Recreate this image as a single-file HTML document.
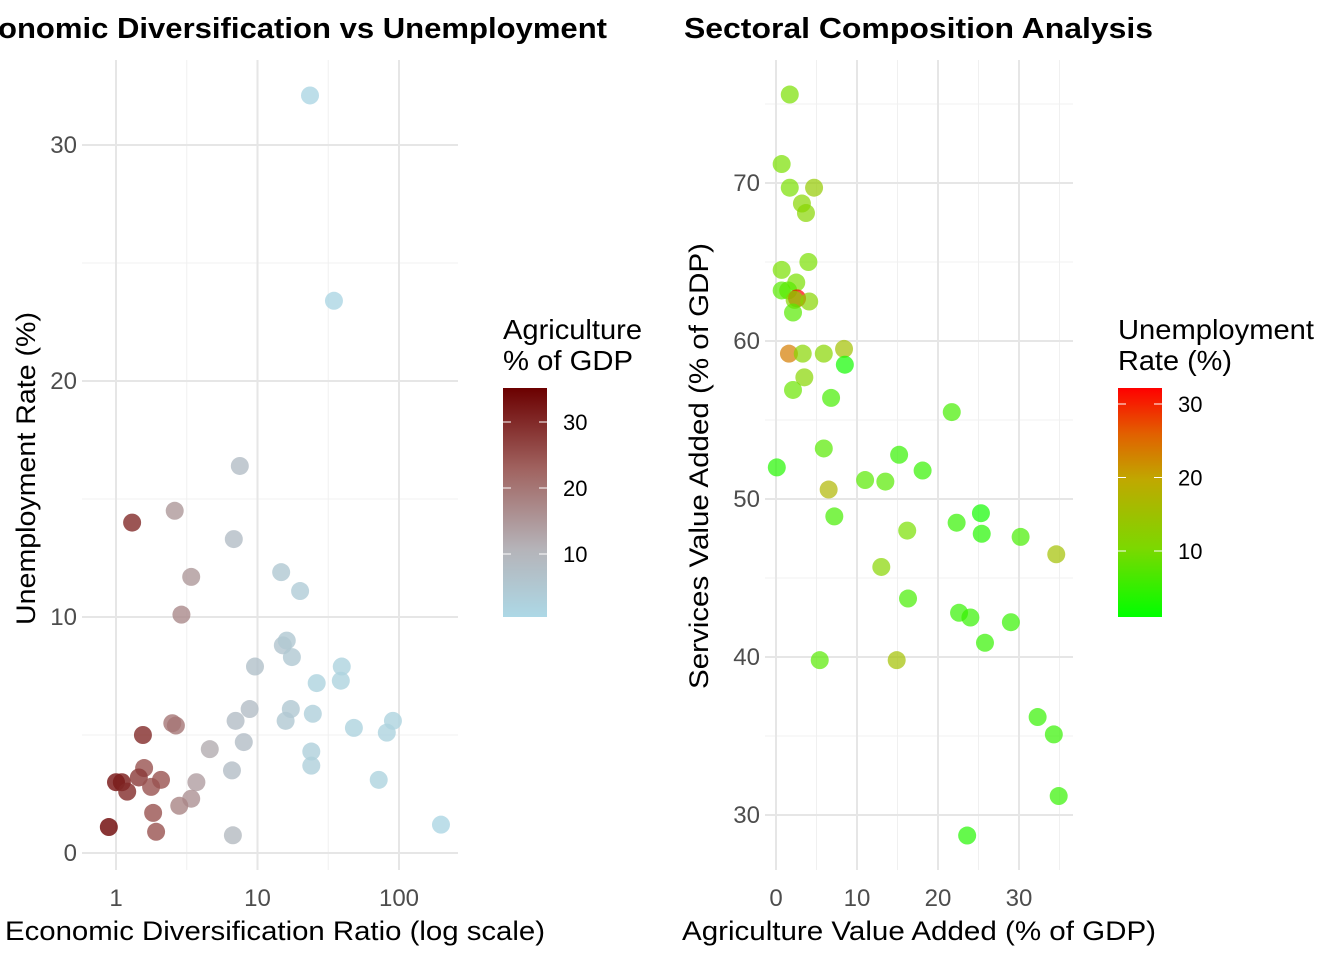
<!DOCTYPE html>
<html><head><meta charset="utf-8"><style>
html,body{margin:0;padding:0;background:#fff;}
svg{display:block;font-family:"Liberation Sans",Arial,sans-serif;}
</style></head><body>
<svg id="c" width="1344" height="960" viewBox="0 0 1344 960">
<defs>
<linearGradient id="gAgri" x1="0" y1="1" x2="0" y2="0">
<stop offset="0" stop-color="#add8e6"/><stop offset="0.3" stop-color="#b5b3b8"/><stop offset="0.65" stop-color="#a0625f"/><stop offset="1" stop-color="#6b0000"/>
</linearGradient>
<linearGradient id="gUnemp" x1="0" y1="1" x2="0" y2="0">
<stop offset="0" stop-color="#00ff00"/><stop offset="0.3" stop-color="#7cd800"/><stop offset="0.6" stop-color="#c0a800"/><stop offset="0.8" stop-color="#e26000"/><stop offset="1" stop-color="#ff0000"/>
</linearGradient>
</defs>
</svg>
<script>
// Left chart data
const leftRatio=[23.5,34.7,7.5,2.6,1.3,6.8,3.4,14.7,20,2.9,15.1,16.1,17.5,9.6,39.4,38.8,26.2,8.8,17.2,24.6,7.0,15.8,2.5,2.65,1.55,90.6,82,48,4.6,8.0,24,24,6.6,1.58,1.0,1.1,1.45,2.08,3.7,1.2,1.77,71.9,3.4,2.8,1.83,0.89,1.92,6.7,198];
const leftUnemp=[32.1,23.4,16.4,14.5,14.0,13.3,11.7,11.9,11.1,10.1,8.8,9.0,8.3,7.9,7.9,7.3,7.2,6.1,6.1,5.9,5.6,5.6,5.5,5.4,5.0,5.6,5.1,5.3,4.4,4.7,4.3,3.7,3.5,3.6,3.0,3.0,3.2,3.1,3.0,2.6,2.8,3.1,2.3,2.0,1.7,1.1,0.9,0.75,1.2];
const leftAgri=[1,1,8,15,30,8,15,5,4,17,6,5,5,7,2,2,2,8,5,3,8,5,20,20,30,2,2,2,12,8,3,3,8,25,33,32,28,25,14,30,25,2,16,18,25,35,25,9,1];
const leftXTicks=[1,10,100];
const leftYTicks=[0,10,20,30];
const agriLegendTicks=[10,20,30];
// Right chart data
const rightAgri=[1.7,0.7,1.7,4.7,3.2,3.7,0.7,4.0,2.5,0.7,1.5,2.6,2.3,4.1,2.1,1.6,3.3,5.9,8.4,8.5,3.5,2.1,6.8,21.7,0.1,5.9,15.2,18.1,11.0,13.5,6.5,7.2,25.3,22.3,25.4,16.2,30.2,34.6,13.0,16.3,22.6,24.0,29.0,25.8,5.4,14.9,32.3,34.3,34.9,23.6];
const rightServices=[75.6,71.2,69.7,69.7,68.7,68.1,64.5,65.0,63.7,63.2,63.2,62.7,62.6,62.5,61.8,59.2,59.2,59.2,59.5,58.5,57.7,56.9,56.4,55.5,52.0,53.2,52.8,51.8,51.2,51.1,50.6,48.9,49.1,48.5,47.8,48.0,47.6,46.5,45.7,43.7,42.8,42.5,42.2,40.9,39.8,39.8,36.2,35.1,31.2,28.7];
const rightUnemp=[8,8,8,12,10,10,8,8,8,6,6,32,10,10,6,23,10,10,14,2,10,7,5,5,3,6,4,4,6,6,16,5,2,4,3,8,5,14,10,5,4,4,4,4,6,14,4,4,4,3];
const rightXTicks=[0,10,20,30];
const rightYTicks=[30,40,50,60,70];
const unempLegendTicks=[10,20,30];

const NS="http://www.w3.org/2000/svg";
const svg=document.getElementById('c');
function mk(tag,attrs,parent){const e=document.createElementNS(NS,tag);for(const k in attrs)e.setAttribute(k,attrs[k]);(parent||svg).appendChild(e);return e;}

const lx=v=>116+Math.log10(v)*141.5;
const ly=v=>853-v*23.6;
const rx=v=>776+v*8.1;
const ry=v=>815-(v-30)*15.8;
const agriLeg=v=>554-(v-10)*6.6;
const unLeg=v=>551-(v-10)*7.35;

function lerp(a,b,t){return a.map((x,i)=>Math.round(x+(b[i]-x)*t));}
function ramp(stops,t){t=Math.max(0,Math.min(1,t));for(let i=1;i<stops.length;i++){if(t<=stops[i][0]){const u=(t-stops[i-1][0])/(stops[i][0]-stops[i-1][0]);const c=lerp(stops[i-1][1],stops[i][1],u);return `rgb(${c})`;}}return `rgb(${stops[stops.length-1][1]})`;}
const agriStops=[[0,[173,216,230]],[0.3,[181,179,184]],[0.65,[160,98,95]],[1,[107,0,0]]];
const unStops=[[0,[0,255,0]],[0.22,[120,225,0]],[0.55,[190,170,0]],[0.8,[226,96,0]],[1,[255,0,0]]];
const agriCol=v=>ramp(agriStops,(v-0.5)/(35.2-0.5));
const unCol=v=>ramp(unStops,(v-1)/(32.2-1));

// left panel grid
const gL=mk('g',{});


[0.5,1.5].forEach(d=>mk('line',{x1:lx(Math.pow(10,d)),x2:lx(Math.pow(10,d)),y1:60,y2:870,stroke:'#f0f0f0','stroke-width':1},gL));
[5,15,25].forEach(v=>mk('line',{x1:82,x2:458,y1:ly(v),y2:ly(v),stroke:'#f0f0f0','stroke-width':1},gL));
leftXTicks.forEach(v=>mk('line',{x1:lx(v),x2:lx(v),y1:60,y2:870,stroke:'#e6e6e6','stroke-width':2},gL));
leftYTicks.forEach(v=>mk('line',{x1:82,x2:458,y1:ly(v),y2:ly(v),stroke:'#e6e6e6','stroke-width':2},gL));
leftXTicks.forEach(v=>{const t=mk('text',{x:lx(v),y:906,'text-anchor':'middle','font-size':24,fill:'#4d4d4d'});t.textContent=v;

});
leftYTicks.forEach(v=>{const t=mk('text',{x:77,y:ly(v)+8,'text-anchor':'end','font-size':24,fill:'#4d4d4d'});t.textContent=v;

});
leftRatio.forEach((r,i)=>{const c=mk('circle',{cx:lx(r),cy:ly(leftUnemp[i]),r:9,fill:agriCol(leftAgri[i]),'fill-opacity':0.8});

});

// right panel grid
const gR=mk('g',{});


[5,15,25,35].forEach(v=>mk('line',{x1:rx(v),x2:rx(v),y1:60,y2:870,stroke:'#f0f0f0','stroke-width':1},gR));
[35,45,55,65,75].forEach(v=>mk('line',{x1:765,x2:1073,y1:ry(v),y2:ry(v),stroke:'#f0f0f0','stroke-width':1},gR));
rightXTicks.forEach(v=>mk('line',{x1:rx(v),x2:rx(v),y1:60,y2:870,stroke:'#e6e6e6','stroke-width':2},gR));
rightYTicks.forEach(v=>mk('line',{x1:765,x2:1073,y1:ry(v),y2:ry(v),stroke:'#e6e6e6','stroke-width':2},gR));
rightXTicks.forEach(v=>{const t=mk('text',{x:rx(v),y:906,'text-anchor':'middle','font-size':24,fill:'#4d4d4d'});t.textContent=v;

});
rightYTicks.forEach(v=>{const t=mk('text',{x:760,y:ry(v)+8,'text-anchor':'end','font-size':24,fill:'#4d4d4d'});t.textContent=v;

});
rightAgri.forEach((a,i)=>{const c=mk('circle',{cx:rx(a),cy:ry(rightServices[i]),r:9,fill:unCol(rightUnemp[i]),'fill-opacity':0.7});

});

// titles
function txt(s,attrs,name){const t=mk('text',attrs);t.textContent=s;

return t;}
txt('Economic Diversification vs Unemployment',{x:-40,y:38,'font-size':29,'font-weight':'bold',fill:'#000',textLength:647,lengthAdjust:'spacingAndGlyphs'},'left-title');
txt('Sectoral Composition Analysis',{x:684,y:38,'font-size':29,'font-weight':'bold',fill:'#000',textLength:469,lengthAdjust:'spacingAndGlyphs'},'right-title');
txt('Economic Diversification Ratio (log scale)',{x:5,y:940,'font-size':27,fill:'#000',textLength:540,lengthAdjust:'spacingAndGlyphs'},'left-x-axis-title');
txt('Unemployment Rate (%)',{x:0,y:0,'font-size':27,fill:'#000',textLength:313,lengthAdjust:'spacingAndGlyphs',transform:'translate(35,625) rotate(-90)'},'left-y-axis-title');
txt('Agriculture Value Added (% of GDP)',{x:682,y:940,'font-size':27,fill:'#000',textLength:474,lengthAdjust:'spacingAndGlyphs'},'right-x-axis-title');
txt('Services Value Added (% of GDP)',{x:0,y:0,'font-size':27,fill:'#000',textLength:446,lengthAdjust:'spacingAndGlyphs',transform:'translate(708,689) rotate(-90)'},'right-y-axis-title');

// legends
txt('Agriculture',{x:503,y:339,'font-size':28,fill:'#000',textLength:139,lengthAdjust:'spacingAndGlyphs'},'agri-legend-title-line1');
txt('% of GDP',{x:503,y:370,'font-size':28,fill:'#000',textLength:130,lengthAdjust:'spacingAndGlyphs'},'agri-legend-title-line2');
let b=mk('rect',{x:503,y:388,width:44,height:229,fill:'url(#gAgri)'});


agriLegendTicks.forEach(v=>{const y=agriLeg(v);mk('line',{x1:503,x2:511,y1:y,y2:y,stroke:'#fff','stroke-width':1});mk('line',{x1:539,x2:547,y1:y,y2:y,stroke:'#fff','stroke-width':1});
txt(String(v),{x:563,y:y+8,'font-size':22,fill:'#000'},'agri-legend-tick');});
txt('Unemployment',{x:1118,y:339,'font-size':28,fill:'#000',textLength:196,lengthAdjust:'spacingAndGlyphs'},'unemp-legend-title-line1');
txt('Rate (%)',{x:1118,y:370,'font-size':28,fill:'#000',textLength:114,lengthAdjust:'spacingAndGlyphs'},'unemp-legend-title-line2');
b=mk('rect',{x:1118,y:388,width:44,height:229,fill:'url(#gUnemp)'});


unempLegendTicks.forEach(v=>{const y=unLeg(v);mk('line',{x1:1118,x2:1126,y1:y,y2:y,stroke:'#fff','stroke-width':1});mk('line',{x1:1154,x2:1162,y1:y,y2:y,stroke:'#fff','stroke-width':1});
txt(String(v),{x:1178,y:y+8,'font-size':22,fill:'#000'},'unemp-legend-tick');});
</script>
</body></html>
